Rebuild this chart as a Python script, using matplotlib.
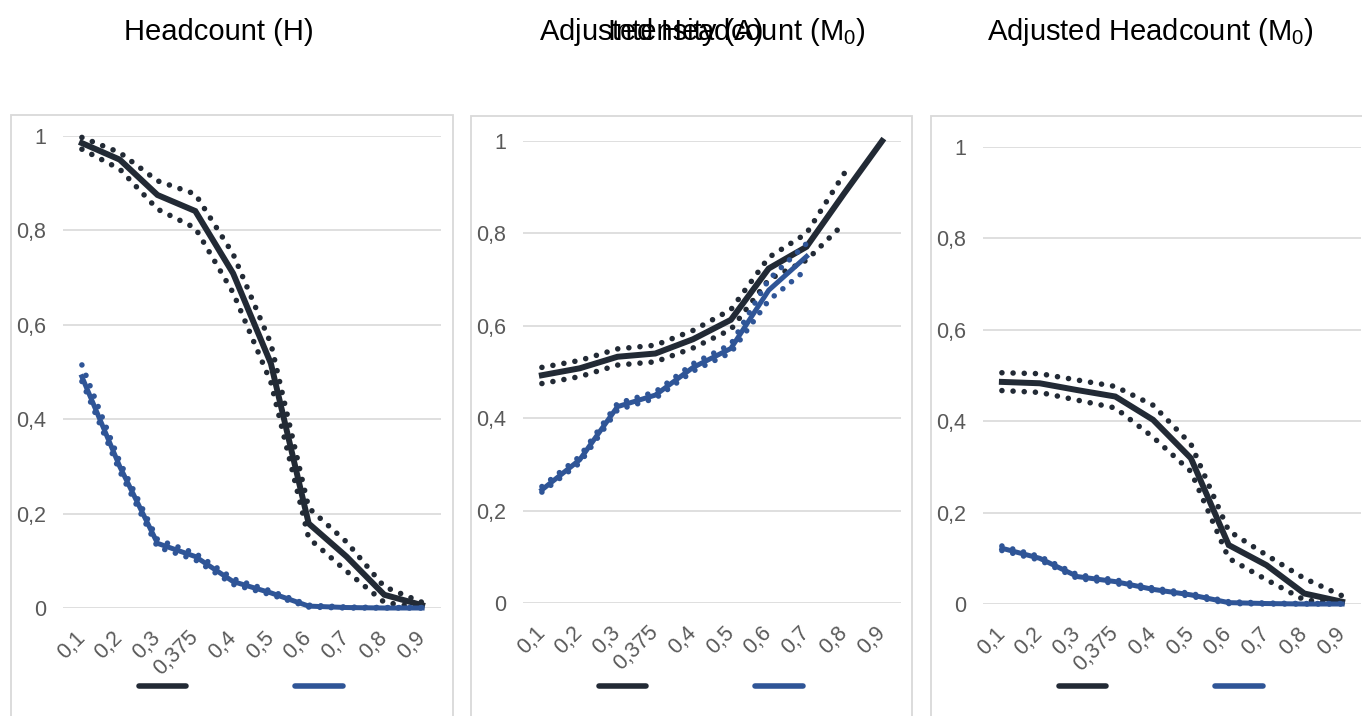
import numpy as np
import matplotlib.pyplot as plt
from matplotlib.lines import Line2D
from matplotlib.patches import Rectangle

plt.rcParams['font.family'] = ['Liberation Sans', 'DejaVu Sans']

# categories (poverty cutoff k)
cats = ['0,1', '0,2', '0,3', '0,375', '0,4', '0,5', '0,6', '0,7', '0,8', '0,9']
yticks = [0, 0.2, 0.4, 0.6, 0.8, 1]
ylabels = ['0', '0,2', '0,4', '0,6', '0,8', '1']

# Headcount (H)
h_black = [0.985, 0.950, 0.875, 0.841, 0.709, 0.518, 0.179, 0.109, 0.028, 0.006]
h_black_hi = [0.997, 0.965, 0.905, 0.877, 0.750, 0.560, 0.212, 0.140, 0.045, 0.012]
h_black_lo = [0.972, 0.930, 0.845, 0.805, 0.668, 0.478, 0.148, 0.078, 0.012, 0.000]
h_blue = [0.490, 0.300, 0.137, 0.109, 0.056, 0.032, 0.004, 0.001, 0.000, 0.000]
h_blue_hi = [0.515, 0.310, 0.145, 0.116, 0.062, 0.036, 0.006, 0.002, 0.001, 0.001]
h_blue_lo = [0.480, 0.290, 0.129, 0.102, 0.050, 0.028, 0.002, 0.000, 0.000, 0.000]

# Intensity (A)
a_black = [0.493, 0.508, 0.533, 0.540, 0.571, 0.613, 0.724, 0.771, 0.887, 1.000]
a_black_hi = [0.510, 0.525, 0.550, 0.558, 0.590, 0.635, 0.748, 0.800, 0.930, np.nan]
a_black_lo = [0.475, 0.490, 0.515, 0.522, 0.552, 0.592, 0.700, 0.742, 0.822, np.nan]
a_blue = [0.245, 0.310, 0.425, 0.450, 0.510, 0.551, 0.677, 0.750, np.nan, np.nan]
a_blue_hi = [0.252, 0.317, 0.432, 0.457, 0.518, 0.560, 0.700, 0.778, np.nan, np.nan]
a_blue_lo = [0.240, 0.303, 0.418, 0.443, 0.502, 0.542, 0.655, 0.722, np.nan, np.nan]

# Adjusted Headcount (M0)
m_black = [0.486, 0.483, 0.468, 0.454, 0.403, 0.319, 0.129, 0.085, 0.023, 0.005]
m_black_hi = [0.506, 0.504, 0.490, 0.476, 0.435, 0.350, 0.160, 0.107, 0.056, 0.018]
m_black_lo = [0.467, 0.463, 0.446, 0.429, 0.365, 0.290, 0.100, 0.053, 0.009, 0.000]
m_blue = [0.122, 0.100, 0.060, 0.049, 0.032, 0.020, 0.003, 0.001, 0.000, 0.000]
m_blue_hi = [0.127, 0.104, 0.064, 0.053, 0.035, 0.023, 0.005, 0.002, 0.001, 0.001]
m_blue_lo = [0.117, 0.096, 0.056, 0.045, 0.029, 0.017, 0.001, 0.000, 0.000, 0.000]

BLACK = '#222a35'
BLUE = '#2f5597'
GRID = '#d9d9d9'
TXT = '#595959'

W, H = 1362, 716
fig = plt.figure(figsize=(W / 100, H / 100), dpi=100)

# panel borders (chart areas), in pixels: left, right, top
for x0, x1, top in [(11, 453, 115), (471, 912, 116), (931, 1372, 116)]:
    fig.add_artist(Rectangle((x0 / W, -0.01), (x1 - x0) / W, 1 - top / H + 0.01,
                             transform=fig.transFigure, fill=False,
                             ec=GRID, lw=1.3))

# plot areas in pixels: left, right, y(1), y(0)
boxes = [(63, 441, 136, 608), (523, 901, 141, 603), (983, 1361, 147, 604)]
series = [
    (h_black, h_black_hi, h_black_lo, h_blue, h_blue_hi, h_blue_lo),
    (a_black, a_black_hi, a_black_lo, a_blue, a_blue_hi, a_blue_lo),
    (m_black, m_black_hi, m_black_lo, m_blue, m_blue_hi, m_blue_lo),
]

x = np.arange(len(cats))
for (l, r, t, b), (bk, bkh, bkl, bl, blh, bll) in zip(boxes, series):
    ax = fig.add_axes([l / W, 1 - b / H, (r - l) / W, (b - t) / H])
    ax.set_xlim(-0.5, len(cats) - 0.5)
    ax.set_ylim(0, 1)
    for s in ax.spines.values():
        s.set_visible(False)
    ax.set_yticks(yticks)
    ax.set_yticklabels(ylabels)
    ax.set_xticks(x)
    ax.set_xticklabels(cats, rotation=45, ha='right', va='center',
                       rotation_mode='anchor')
    ax.tick_params(axis='both', length=0, labelsize=15.5, labelcolor=TXT)
    ax.tick_params(axis='y', pad=12)
    ax.tick_params(axis='x', pad=19)
    ax.grid(axis='y', color=GRID, lw=1.2)
    ax.set_axisbelow(True)

    dot = dict(lw=4.0, linestyle=(0, (0.01, 2.0)), dash_capstyle='round', clip_on=False)
    ax.plot(x, bkh, color=BLACK, **dot)
    ax.plot(x, bkl, color=BLACK, **dot)
    ax.plot(x, bk, color=BLACK, lw=4.3, solid_joinstyle='miter', clip_on=False)
    ax.plot(x, blh, color=BLUE, **dot)
    ax.plot(x, bll, color=BLUE, **dot)
    ax.plot(x, bl, color=BLUE, lw=3.6, clip_on=False)

    handles = [Line2D([], [], color=BLACK, lw=4, solid_capstyle='round'),
               Line2D([], [], color=BLUE, lw=4, solid_capstyle='round')]
    ax.legend(handles, [' ', ' '], loc='center', ncol=2, frameon=False,
              bbox_to_anchor=(0.5 - 6 / (r - l), (b - 687) / (b - t)),
              handlelength=3.4, handletextpad=0.5, columnspacing=7.1, fontsize=10)

# titles
tfs = 21
fig.text(219 / W, 1 - 32 / H, 'Headcount (H)', ha='center', va='center', fontsize=tfs)
fig.text(702 / W, 1 - 32 / H, r'Adjusted Headcount (M$_\mathregular{0}$)',
         ha='center', va='center', fontsize=tfs)
fig.text(686 / W, 1 - 32 / H, 'Intensity (A)', ha='center', va='center', fontsize=tfs)
fig.text(1150 / W, 1 - 32 / H, r'Adjusted Headcount (M$_\mathregular{0}$)',
         ha='center', va='center', fontsize=tfs)

fig.savefig('out.png', dpi=100)
